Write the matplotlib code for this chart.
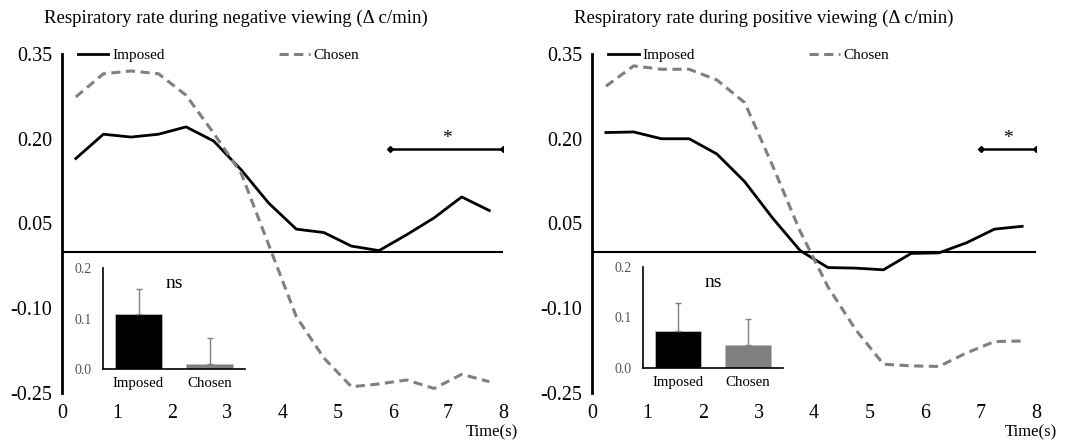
import matplotlib.pyplot as plt

plt.rcParams['font.family'] = ['Liberation Serif', 'DejaVu Serif']

# Time points (s)
time = [0.25, 0.75, 1.25, 1.75, 2.25, 2.75, 3.25, 3.75,
        4.25, 4.75, 5.25, 5.75, 6.25, 6.75, 7.25, 7.75]

# Negative viewing
neg_imposed = [0.165, 0.208, 0.203, 0.208, 0.221, 0.196, 0.145, 0.086,
               0.040, 0.034, 0.010, 0.002, 0.030, 0.060, 0.097, 0.073]
neg_chosen = [0.274, 0.315, 0.320, 0.315, 0.277, 0.210, 0.139, 0.012,
              -0.115, -0.188, -0.239, -0.234, -0.227, -0.242, -0.217, -0.230]

# Positive viewing
pos_imposed = [0.211, 0.212, 0.200, 0.200, 0.173, 0.124, 0.060, 0.002,
               -0.028, -0.029, -0.032, -0.003, -0.002, 0.016, 0.040, 0.045]
pos_chosen = [0.293, 0.329, 0.323, 0.323, 0.304, 0.264, 0.153, 0.036,
              -0.062, -0.138, -0.199, -0.202, -0.203, -0.179, -0.159, -0.158]

# Inset bars (mean, upper error)
bar_labels = ['Imposed', 'Chosen']
neg_bars = [0.109, 0.009]
neg_err = [0.049, 0.052]
pos_bars = [0.073, 0.045]
pos_err = [0.056, 0.053]

# Significance brackets (start, end)
neg_sig = [5.95, 8.0]
pos_sig = [7.0, 8.0]

titles = ['Respiratory rate during negative viewing (\u0394 c/min)',
          'Respiratory rate during positive viewing (\u0394 c/min)']

fig = plt.figure(figsize=(10.79, 4.43), dpi=100)

panels = [
    dict(main=[0.0575, 0.1129, 0.4087, 0.7652], inset=[0.0955, 0.1670, 0.1316, 0.2280],
         imp=neg_imposed, cho=neg_chosen, bars=neg_bars, err=neg_err, sig=neg_sig,
         title=titles[0], tx=0.2187, timex=0.480),
    dict(main=[0.5487, 0.1129, 0.4115, 0.7652], inset=[0.5959, 0.1693, 0.1297, 0.2280],
         imp=pos_imposed, cho=pos_chosen, bars=pos_bars, err=pos_err, sig=pos_sig,
         title=titles[1], tx=0.7080, timex=0.980),
]

GRAY = '#808080'

for p in panels:
    ax = fig.add_axes(p['main'])
    ax.plot(time, p['imp'], color='black', lw=2.0, label='Imposed')
    ax.plot(time, p['cho'], color=GRAY, lw=2.2, dashes=(3, 1.8), label='Chosen')
    ax.axhline(0, color='black', lw=1.5)
    ax.set_xlim(0, 8)
    ax.set_ylim(-0.25, 0.35)
    ax.set_xticks(range(9))
    ax.set_yticks([-0.25, -0.10, 0.05, 0.20, 0.35])
    ax.set_yticklabels(['-0.25', '-0.10', '0.05', '0.20', '0.35'])
    ax.tick_params(axis='both', length=0, labelsize=14.4)
    ax.tick_params(axis='y', pad=7)
    ax.tick_params(axis='x', pad=8)
    for s in ['top', 'right', 'bottom']:
        ax.spines[s].set_visible(False)
    ax.spines['left'].set_linewidth(2.0)
    ax.patch.set_alpha(0)

    ax.legend(loc='center left', bbox_to_anchor=(0.036, 0.997), ncol=2,
              frameon=False, fontsize=11, handlelength=2.0, handletextpad=0.25,
              columnspacing=7.5, borderpad=0, borderaxespad=0)

    # significance bracket
    sy = 0.182
    ax.plot(p['sig'], [sy, sy], color='black', lw=1.8, marker='D', markersize=3)
    ax.text(sum(p['sig']) / 2, sy + 0.004, '*', ha='center', va='bottom', fontsize=14)

    fig.text(p['tx'], 0.959, p['title'], ha='center', va='center', fontsize=13.5)
    fig.text(p['timex'], 0.025, 'Time(s)', ha='right', va='center', fontsize=12)

    # inset bar chart
    ins = fig.add_axes(p['inset'])
    ins.bar([0, 1], p['bars'], width=0.65, color=['black', GRAY], edgecolor='#bbbbbb',
            linewidth=0.6, yerr=[[0, 0], p['err']], ecolor=GRAY,
            error_kw=dict(elinewidth=1.0, capsize=2.5, capthick=1.0))
    ins.set_xlim(-0.5, 1.5)
    ins.set_ylim(0, 0.2)
    ins.set_xticks([0, 1])
    ins.set_xticklabels(bar_labels, fontsize=10.7)
    ins.set_yticks([0.0, 0.1, 0.2])
    ins.set_yticklabels(['0.0', '0.1', '0.2'], fontsize=10, color='#555555')
    ins.tick_params(axis='both', length=0)
    ins.tick_params(axis='y', pad=8)
    ins.tick_params(axis='x', pad=6)
    for s in ['top', 'right']:
        ins.spines[s].set_visible(False)
    ins.spines['left'].set_linewidth(1.2)
    ins.spines['bottom'].set_linewidth(1.2)
    ins.patch.set_alpha(0)
    ins.text(0.5, 0.17, 'ns', ha='center', va='center', fontsize=14)

fig.savefig('out.png', dpi=100)
